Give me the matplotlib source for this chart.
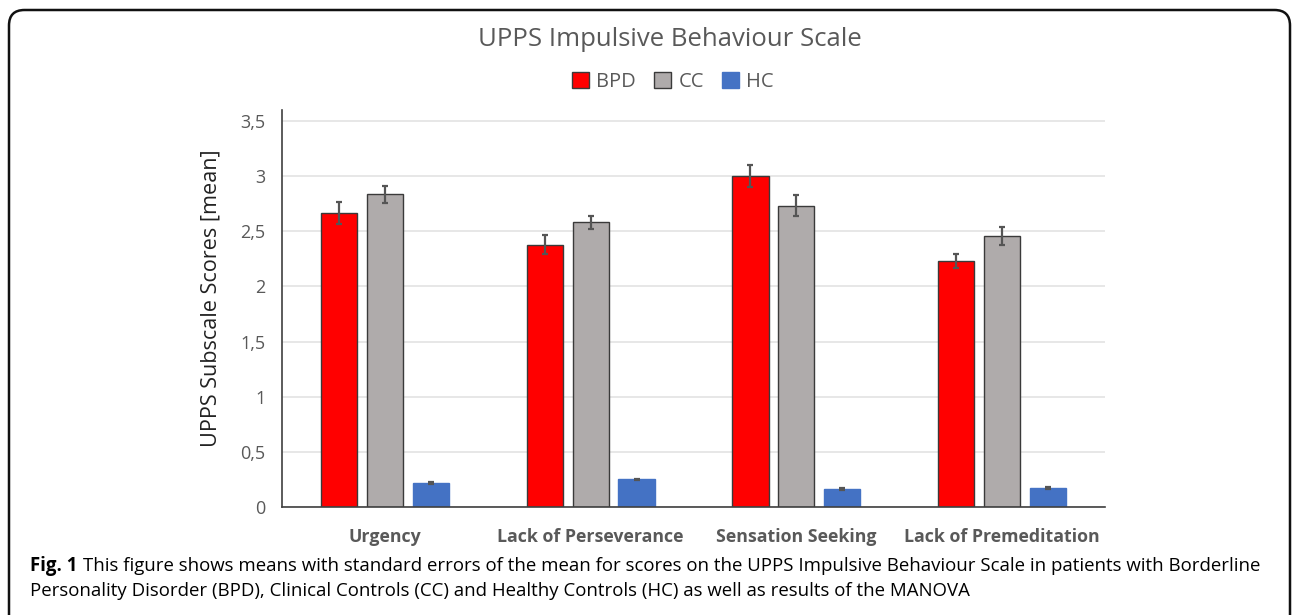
import numpy as np
import matplotlib.pyplot as plt
from matplotlib.patches import FancyBboxPatch, Patch
from matplotlib.ticker import FuncFormatter

# values
categories = ["Urgency", "Lack of Perseverance", "Sensation Seeking", "Lack of Premeditation"]
groups = ["BPD", "CC", "HC"]
bpd = [2.67, 2.38, 3.00, 2.23]
bpd_se = [0.10, 0.085, 0.10, 0.06]
cc = [2.835, 2.58, 2.73, 2.455]
cc_se = [0.075, 0.06, 0.095, 0.08]
hc = [0.215, 0.25, 0.16, 0.17]
hc_se = [0.01, 0.006, 0.01, 0.008]
yticks = [0, 0.5, 1, 1.5, 2, 2.5, 3, 3.5]

colors = ["#FF0000", "#AFABAB", "#4472C4"]
edges = ["#3a3a3a", "#3a3a3a", "#4472C4"]
grey_txt = "#595959"
chart_font = "Open Sans"

W, H = 1292, 615
fig = plt.figure(figsize=(W / 100, H / 100), dpi=100)

# rounded caption box around everything
box = FancyBboxPatch((9 / W, -0.05), 1281 / W, 1 - 10 / H + 0.05,
                     boxstyle="round,pad=0,rounding_size=0.012",
                     transform=fig.transFigure, fill=False, ec="#111111", lw=1.8,
                     mutation_aspect=W / H)
fig.patches.append(box)

ax = fig.add_axes([282 / W, 1 - 507 / H, (1105 - 282) / W, (507 - 110) / H])

x = np.arange(len(categories))
step = 0.223
width = 0.176
series = [(bpd, bpd_se), (cc, cc_se), (hc, hc_se)]
for i, (vals, se) in enumerate(series):
    ax.bar(x + (i - 1) * step, vals, width, color=colors[i], edgecolor=edges[i],
           linewidth=1.0, zorder=2)
    ax.errorbar(x + (i - 1) * step, vals, yerr=se, fmt="none", ecolor="#555555",
                elinewidth=1.6, capsize=2.5, capthick=1.6, zorder=3)

ax.set_xlim(-0.5, 3.5)
ax.set_ylim(0, 3.6)
ax.set_yticks(yticks)
ax.yaxis.set_major_formatter(FuncFormatter(lambda v, p: f"{v:g}".replace(".", ",")))
ax.yaxis.grid(True, color="#e3e3e3", lw=1.2, zorder=0)
ax.set_axisbelow(True)
ax.tick_params(axis="both", length=0)
ax.tick_params(axis="y", pad=12, labelsize=13, labelcolor=grey_txt)
ax.tick_params(axis="x", pad=15)
ax.set_xticks(x)
ax.set_xticklabels(categories, fontsize=12.8, fontweight="bold", color=grey_txt,
                   family=chart_font)
for lab in ax.get_yticklabels():
    lab.set_family(chart_font)

for s in ["top", "right"]:
    ax.spines[s].set_visible(False)
ax.spines["left"].set_color("#404040")
ax.spines["bottom"].set_color("#404040")
ax.spines["left"].set_linewidth(1.2)
ax.spines["bottom"].set_linewidth(1.2)

ax.set_ylabel("UPPS Subscale Scores [mean]", fontsize=15.6, color="#222222",
              family=chart_font)
ax.yaxis.set_label_coords(-0.073, 0.527)

fig.text(670 / W, 1 - 40 / H, "UPPS Impulsive Behaviour Scale", ha="center", va="center",
         fontsize=18.5, color=grey_txt, family=chart_font)

handles = [Patch(facecolor=colors[i], edgecolor=edges[i], lw=1.0) for i in range(3)]
fig.legend(handles, groups, loc="center", bbox_to_anchor=(673 / W, 1 - 82 / H), ncol=3,
           frameon=False, handlelength=0.85, handleheight=0.85,
           handletextpad=0.35, columnspacing=0.9, labelcolor=grey_txt,
           prop={"family": chart_font, "size": 14.5})

cap_size = 13.4
fig_lbl = fig.text(30 / W, 1 - 566 / H, "Fig. 1", ha="left", va="center", fontsize=cap_size,
                   fontweight="bold", family=chart_font)
fig.canvas.draw()
bb = fig_lbl.get_window_extent()
fig.text((bb.x1 + 6) / W, 1 - 566 / H,
         "This figure shows means with standard errors of the mean for scores on the UPPS "
         "Impulsive Behaviour Scale in patients with Borderline",
         ha="left", va="center", fontsize=cap_size, family=chart_font)
fig.text(30 / W, 1 - 591 / H,
         "Personality Disorder (BPD), Clinical Controls (CC) and Healthy Controls (HC) "
         "as well as results of the MANOVA",
         ha="left", va="center", fontsize=cap_size, family=chart_font)

fig.savefig("out.png", dpi=100)
